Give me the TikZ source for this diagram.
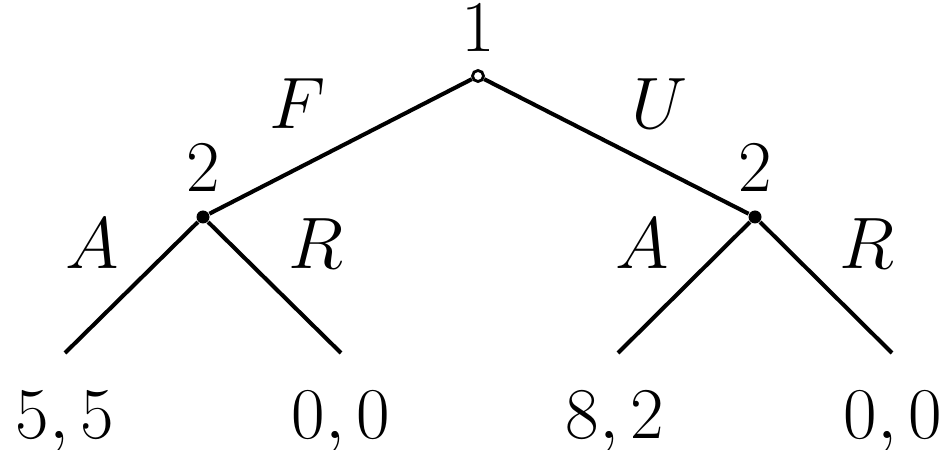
\documentclass[tikz,border=0pt]{standalone}
\usepackage{tikz}
\usetikzlibrary{positioning}
\tikzset{
  branch/.style={line width=1.15pt,draw=black},
  lbl/.style={anchor=base,inner sep=0pt,font=\fontsize{20}{24}\selectfont},
  startnode/.style={circle,draw=black,fill=white,line width=0.8pt,inner sep=0pt,minimum size=0.11cm},
  decnode/.style={circle,fill=black,inner sep=0pt,minimum size=0.13cm}
}
\begin{document}
\begin{tikzpicture}
    \useasboundingbox (0,0) rectangle (9.46,4.5);
    % decision nodes
    \node[startnode] (root) at (4.78,3.74) {};
    \node[decnode] (pl) at (2.03,2.33) {};
    \node[decnode] (pr) at (7.55,2.33) {};
    % terminal points
    \coordinate (ll) at (0.65,0.97);
    \coordinate (lr) at (3.41,0.97);
    \coordinate (rl) at (6.18,0.97);
    \coordinate (rr) at (8.92,0.97);
    \foreach \a/\b in {root/pl,root/pr,pl/ll,pl/lr,pr/rl,pr/rr}
      \draw[branch] (\a) -- (\b);
    % players
    \node[lbl] (p1) at (4.78,3.98) {$1$};
    \node[lbl] (p2l) at (2.03,2.58) {$2$};
    \node[lbl] (p2r) at (7.55,2.58) {$2$};
    % actions
    \node[lbl] (actF) at (2.98,3.21) {$F$};
    \node[lbl] (actU) at (6.60,3.21) {$U$};
    \node[lbl] (actAl) at (0.92,1.81) {$A$};
    \node[lbl] (actRl) at (3.16,1.81) {$R$};
    \node[lbl] (actAr) at (6.42,1.81) {$A$};
    \node[lbl] (actRr) at (8.67,1.81) {$R$};
    % payoffs
    \node[lbl] (payll) at (0.65,0.12) {$5,5$};
    \node[lbl] (paylr) at (3.41,0.12) {$0,0$};
    \node[lbl] (payrl) at (6.15,0.12) {$8,2$};
    \node[lbl] (payrr) at (8.93,0.12) {$0,0$};
\end{tikzpicture}
\end{document}
